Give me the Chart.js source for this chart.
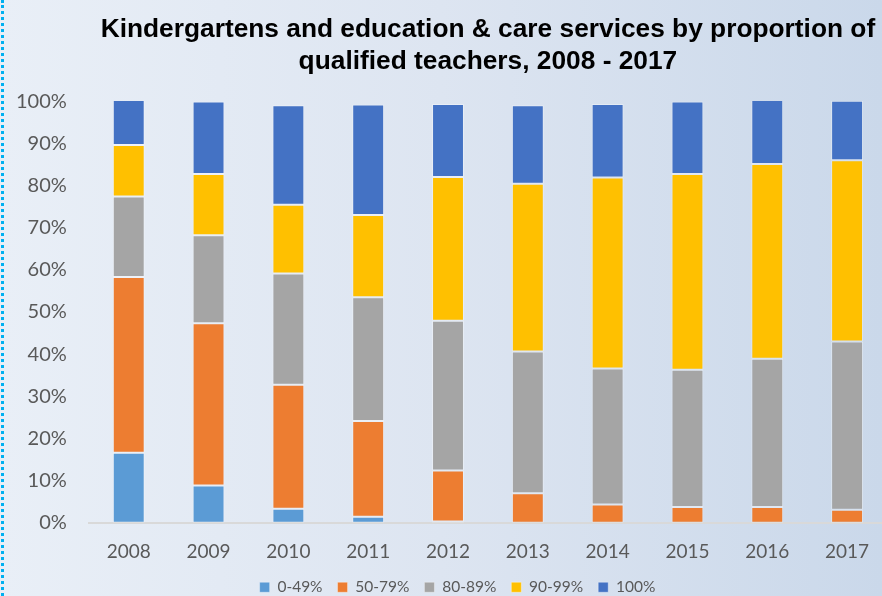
<!DOCTYPE html>
<html>
<head>
<meta charset="utf-8">
<script src="https://cdn.jsdelivr.net/npm/chart.js@4.4.1/dist/chart.umd.min.js"></script>
<style>
  html, body { margin: 0; padding: 0; overflow: hidden; }
  body {
    width: 882px; height: 596px;
    background: linear-gradient(90deg, #e9eff7 0%, #dde5f1 50%, #cad8ea 100%);
    position: relative;
  }
  #edge { position: absolute; left: 1px; top: 0; width: 0; height: 596px; border-left: 3px dotted #00b0f0; }
  #wrap { position: absolute; left: 0; top: 0; width: 890px; height: 596px; }
</style>
</head>
<body>
<div id="edge"></div>
<div id="wrap"><canvas id="grafica"></canvas></div>
<script>
// años y series (% de servicios según proporción de maestros calificados)
var anios = ["2008","2009","2010","2011","2012","2013","2014","2015","2016","2017"];
var serie0a49  = [16.6, 8.8, 3.3, 1.4, 0.3, 0, 0, 0, 0, 0];
var serie50a79 = [41.7, 38.5, 29.4, 22.7, 12.1, 7.0, 4.3, 3.7, 3.7, 3.1];
var serie80a89 = [19.1, 20.9, 26.4, 29.4, 35.5, 33.6, 32.3, 32.6, 35.2, 39.9];
var serie90a99 = [12.2, 14.5, 16.3, 19.5, 34.1, 39.8, 45.3, 46.4, 46.2, 43.0];
var serie100   = [10.8, 17.2, 23.6, 26.2, 17.3, 18.6, 17.4, 17.2, 15.3, 14.1];
var etiquetas  = ["0-49%","50-79%","80-89%","90-99%","100%"];
var colores    = ["#5b9bd5","#ed7d31","#a5a5a5","#ffc000","#4472c4"];

var series = [serie0a49, serie50a79, serie80a89, serie90a99, serie100];
var datasets = [];
for (var i = 0; i < series.length; i++) {
  datasets.push({
    label: etiquetas[i],
    data: series[i],
    backgroundColor: colores[i],
    borderColor: "rgba(255,255,255,0.35)",
    borderWidth: 1,
    borderSkipped: false,
    categoryPercentage: 1,
    barPercentage: 0.4
  });
}

// correr la leyenda un poco a la derecha
var moverLeyenda = {
  id: 'moverLeyenda',
  afterLayout: function(chart){
    chart.legend.left += 17;
    chart.legend.right += 17;
  }
};

var gris = "#595959";
new Chart(document.getElementById("grafica"), {
  type: 'bar',
  data: { labels: anios, datasets: datasets },
  plugins: [moverLeyenda],
  options: {
    responsive: true,
    maintainAspectRatio: false,
    animation: false,
    layout: { padding: { left: -6, right: 3, top: 0, bottom: -9 } },
    plugins: {
      title: {
        display: true,
        fullSize: false,
        text: ["Kindergartens and education & care services by proportion of", "qualified teachers, 2008 - 2017"],
        color: "#000",
        font: { family: "'Liberation Sans', Arial", size: 26.3, weight: 'bold', lineHeight: 1.2 },
        padding: { top: 14, bottom: 24 }
      },
      legend: {
        position: 'bottom',
        labels: { color: gris, boxWidth: 10, boxHeight: 10, padding: 15, font: { family: "Lato", size: 15.5 } }
      },
      tooltip: { enabled: false }
    },
    scales: {
      x: {
        stacked: true,
        grid: { display: false, drawTicks: false },
        border: { color: "#d9d9d9", width: 2 },
        ticks: { color: gris, padding: 18, font: { family: "Lato", size: 19 } },
        // eje más bajo para acercar la leyenda
        afterFit: function(escala){ escala.height -= 17; }
      },
      y: {
        stacked: true,
        min: 0, max: 100,
        grid: { display: false, drawTicks: false },
        border: { display: false },
        ticks: { stepSize: 10, color: gris, padding: 22, font: { family: "Lato", size: 20 },
                 callback: function(v){ return v + "%"; } }
      }
    }
  }
});
</script>
</body>
</html>
